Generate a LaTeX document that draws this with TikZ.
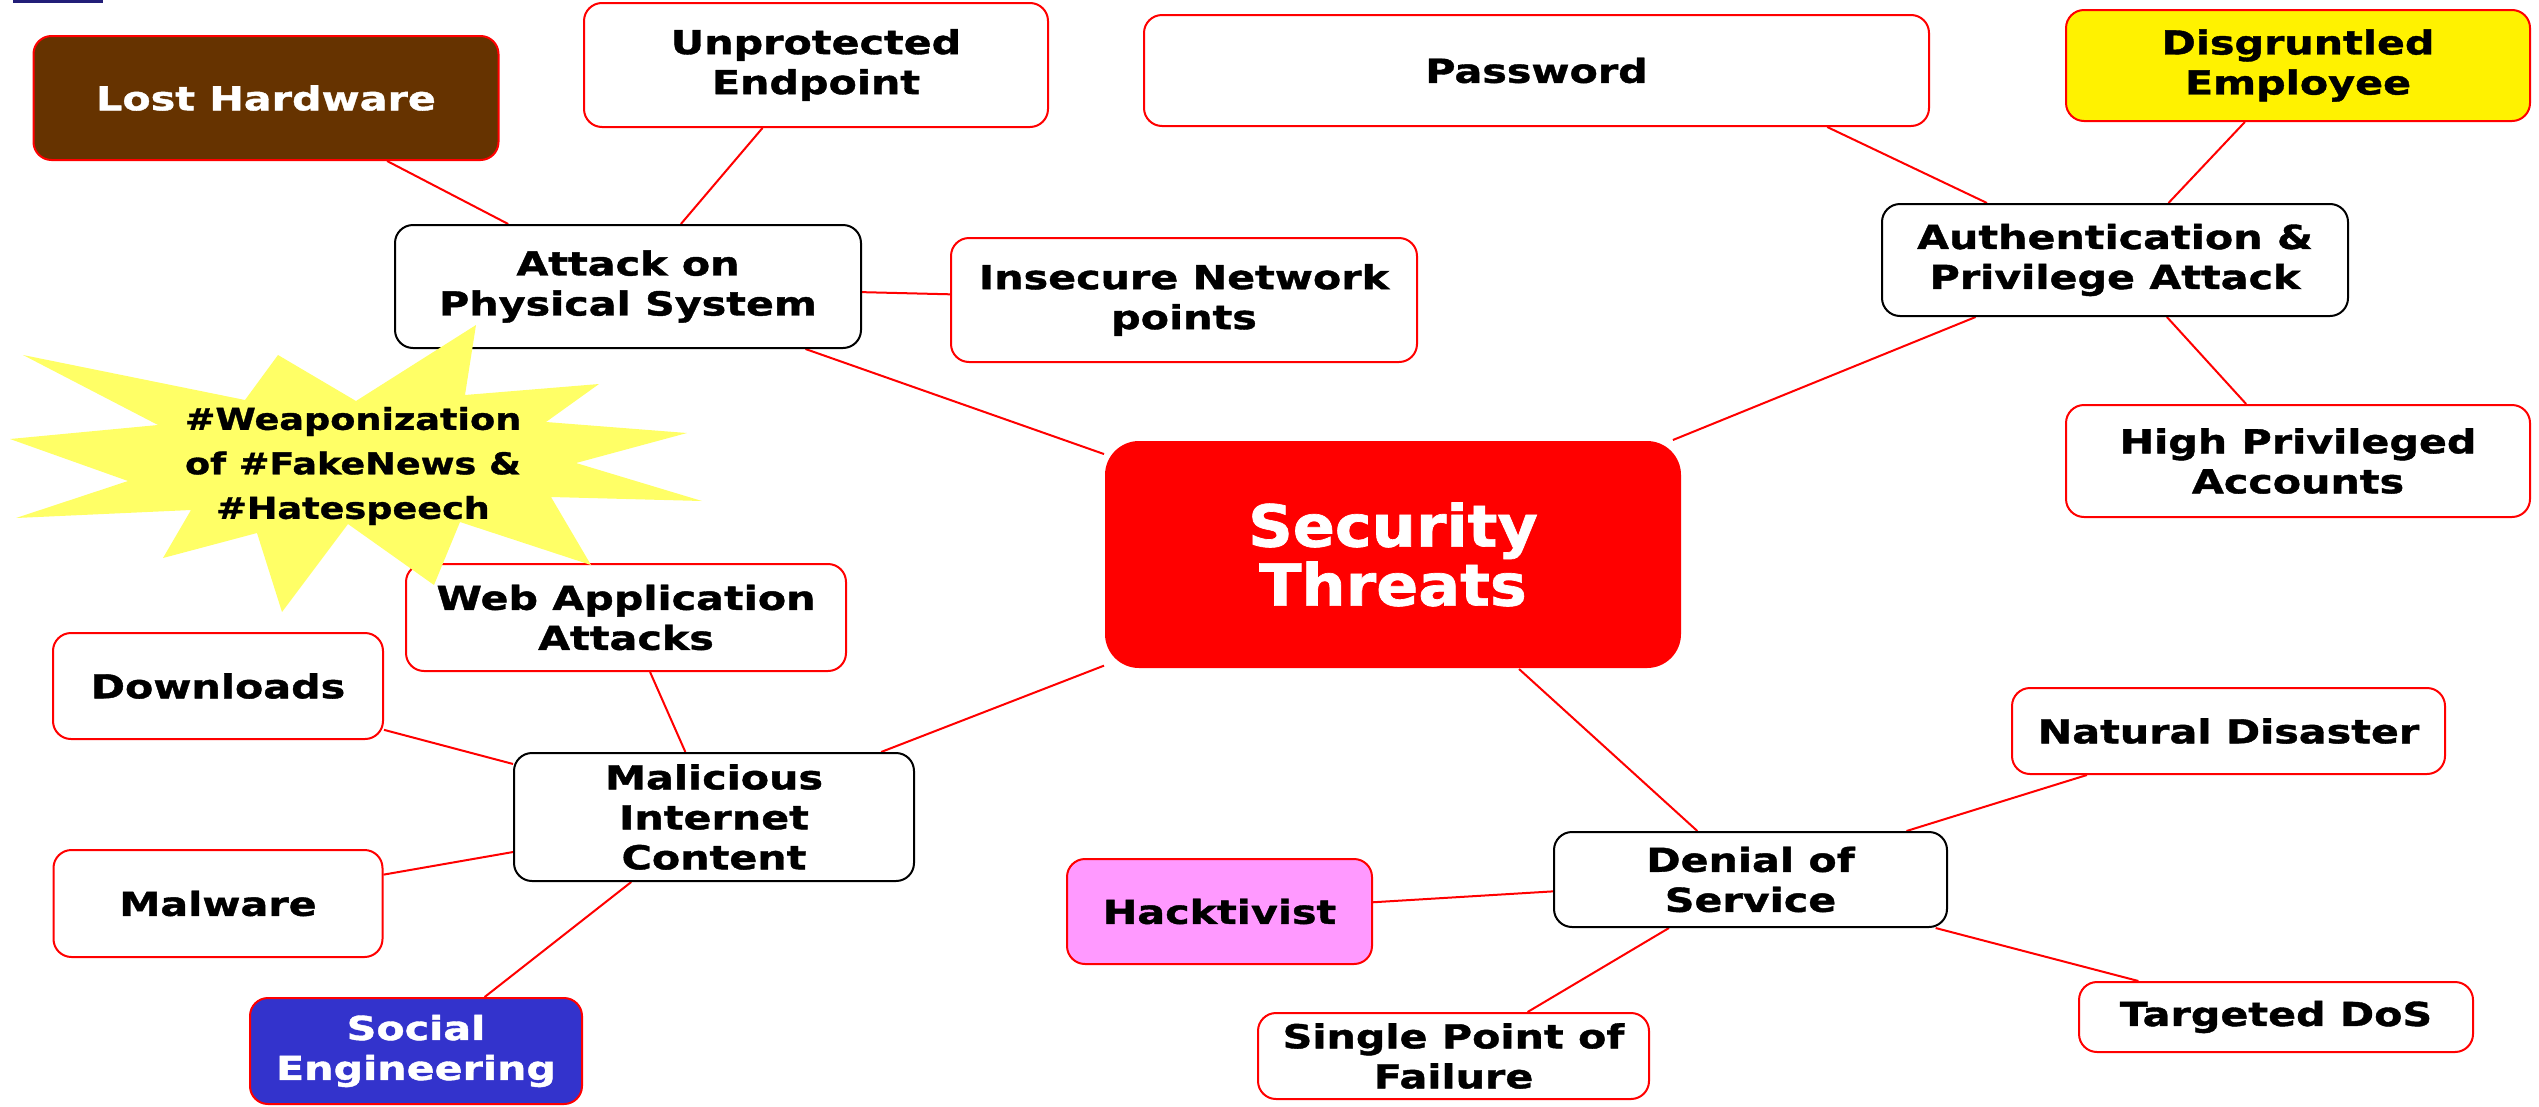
\documentclass[tikz,border=0pt]{standalone}
\usepackage{fontspec}
\newfontfamily\nodefont{DejaVu Sans Bold}[FakeStretch=1.25,FakeBold=1.2]
\newfontfamily\centerfont{DejaVu Sans Bold}[FakeStretch=1.07,FakeBold=1.2]
\newfontfamily\starfont{DejaVu Sans Bold}[FakeStretch=1.22,FakeBold=1.2]
\usetikzlibrary{backgrounds}
\definecolor{brownbox}{HTML}{663300}
\definecolor{bluebox}{HTML}{3333CC}
\definecolor{pinkbox}{HTML}{FF99FF}
\definecolor{staryellow}{HTML}{FFFF66}
\definecolor{navybar}{HTML}{221E78}
\begin{document}
\begin{tikzpicture}[x=1pt,y=-1pt,
  box/.style={draw=red, line width=2pt, rounded corners=18pt, fill=white, text=black,
    inner sep=0pt, align=center, font=\nodefont\fontsize{33}{40}\selectfont},
  mid/.style={box, draw=black},
  sz/.style 2 args={minimum width=#1pt, minimum height=#2pt},
  conn/.style={draw=red, line width=2pt},
  startext/.style={inner sep=0pt, align=center, text=black, font=\starfont\fontsize{30}{44.5}\selectfont},
  plaintext/.style={inner sep=0pt, align=center, text=black, font=\nodefont\fontsize{33}{40}\selectfont}
]
\useasboundingbox (0,0) rectangle (2539,1106);
\fill[navybar] (13,0) rectangle (103,2.5);

% nodes
\node[box, sz={465}{124}, fill=brownbox, text=white] (lh) at (266,98) {Lost Hardware};
\node[box, sz={464}{124}] (ue) at (816,65) {Unprotected\\Endpoint};
\node[mid, sz={466}{123}] (aps) at (628,286.5) {Attack on\\Physical System};
\node[box, sz={466}{124}] (inp) at (1184,300) {Insecure Network\\points};
\node[box, sz={440}{107}] (wa) at (626,617.5) {};
\node[box, sz={330}{106}] (dl) at (218,686) {Downloads};
\node[box, sz={329}{107}] (mw) at (218,903.5) {Malware};
\node[mid, sz={400}{128}] (mic) at (714,817) {Malicious\\Internet\\Content};
\node[box, sz={332}{106}, fill=bluebox, text=white] (se) at (416,1051) {Social\\Engineering};
\node[box, sz={576}{227}, draw=none, fill=red, text=white, rounded corners=34pt,
  font=\centerfont\fontsize{58}{59}\selectfont] (st) at (1393,554.5) {Security\\Threats};
\node[box, sz={785}{111}] (pw) at (1536.5,70.5) {Password};
\node[box, sz={464}{111}, fill=yellow] (de) at (2298,65.5) {Disgruntled\\Employee};
\node[mid, sz={466}{112}] (auth) at (2115,260) {Authentication \&\\Privilege Attack};
\node[box, sz={464}{112}] (hp) at (2298,461) {High Privileged\\Accounts};
\node[box, sz={433}{86}] (nd) at (2228.5,731) {Natural Disaster};
\node[mid, sz={393}{95}] (dos) at (1750.5,879.5) {Denial of\\Service};
\node[box, sz={305}{105}, fill=pinkbox] (hk) at (1219.5,911.5) {Hacktivist};
\node[box, sz={394}{70}] (td) at (2276,1017) {Targeted DoS};
\node[box, sz={391}{86}] (spf) at (1453.5,1056) {Single Point of\\Failure};

% connectors
\begin{pgfonlayer}{background}
\draw[conn] (lh) -- (aps);
\draw[conn] (ue) -- (aps);
\draw[conn] (inp) -- (aps);
\draw[conn] (aps) -- (st);
\draw[conn] (wa) -- (mic);
\draw[conn] (dl) -- (mic);
\draw[conn] (mw) -- (mic);
\draw[conn] (se) -- (mic);
\draw[conn] (mic) -- (st);
\draw[conn] (st) -- (auth);
\draw[conn] (pw.-11.16) -- (auth.156);
\draw[conn] (de) -- (auth);
\draw[conn] (hp) -- (auth);
\draw[conn] (st) -- (dos);
\draw[conn] (nd) -- (dos);
\draw[conn] (hk) -- (dos);
\draw[conn] (spf) -- (dos);
\draw[conn] (td) -- (dos);
\end{pgfonlayer}

% starburst
\fill[staryellow] (23,355) -- (245,400) -- (278,355) -- (356,401) -- (476,325) -- (465,395)
  -- (599,384) -- (546,422) -- (687,433) -- (576,463) -- (702,501) -- (551,497)
  -- (591,565) -- (460,522) -- (434,585) -- (348,524) -- (282,612) -- (257,533)
  -- (163,558) -- (191,510) -- (16,518) -- (128,481) -- (10,439) -- (158,425) -- cycle;
\node[startext] (burst) at (353,466) {\#Weaponization\\of \#FakeNews \&\\\#Hatespeech};
\node[plaintext] (wat) at (wa.center) {Web Application\\Attacks};
\end{tikzpicture}
\end{document}
